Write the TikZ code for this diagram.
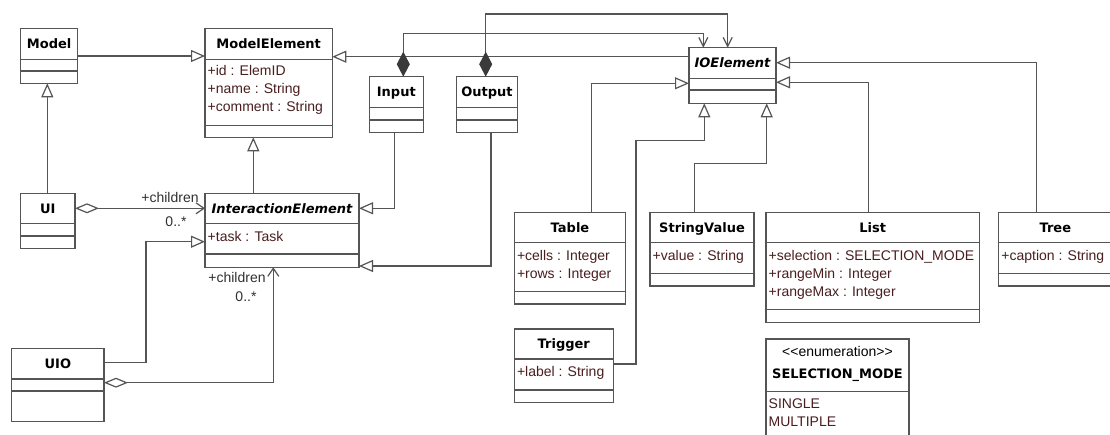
\documentclass[tikz,border=0pt]{standalone}
\usepackage{fontspec}
\setmainfont{Liberation Sans}
\newfontfamily\namefont{DejaVu Sans}
\usetikzlibrary{arrows.meta,fit}
\definecolor{linegray}{HTML}{555555}
\definecolor{attrred}{HTML}{4A1E1E}
\definecolor{labelgray}{HTML}{303030}
\definecolor{diamondgray}{HTML}{3A3A3A}

% horizontal compartment separator across a class box
\newcommand\compsep[2]{\draw[line] (#1.west |- 0,#2) -- (#1.east |- 0,#2);}

\begin{document}
\begin{tikzpicture}[x=1pt,y=-1pt,
  line/.style={draw=linegray, line width=1.2pt},
  classbox/.style={line, fill=white, inner sep=0pt, outer sep=0pt},
  cname/.style={font={\namefont\bfseries\fontsize{13}{15}\selectfont}, inner sep=0pt,
                text height=9.5pt, text depth=0pt, text=black},
  aname/.style={cname, font={\namefont\bfseries\itshape\fontsize{13}{15}\selectfont}},
  attr/.style={anchor=west, xshift=2.5pt, inner sep=0pt, text height=10pt, text depth=3pt,
               font={\fontsize{14}{16}\selectfont}, text=attrred},
  lbl/.style={inner sep=0pt, text height=10pt, text depth=3pt,
              font={\fontsize{14}{16}\selectfont}, text=labelgray},
  gen/.style={line, -{Triangle[open, length=14pt, width=12pt, fill=white]}},
  compo/.style={line, {Diamond[length=25pt, width=13pt, color=diamondgray, fill=diamondgray]}-{Straight Barb[length=9pt, width=9pt]}},
  aggr/.style={line, {Diamond[open, length=24pt, width=10pt, fill=white]}-{Straight Barb[length=8pt, width=11pt]}},
]
\clip (0,0) rectangle (1110,435);
\fill[white] (0,0) rectangle (1110,435);

% ---------- class boxes ----------
\node[classbox, fit={(20.7,28.3) (77.7,83.3)}] (Model) {};
\node[classbox, fit={(205,28.3) (332.3,137.3)}] (ModelElement) {};
\node[classbox, fit={(369.3,76.7) (423.3,132.3)}] (Input) {};
\node[classbox, fit={(456.7,76.7) (517.3,132.3)}] (Output) {};
\node[classbox, fit={(689,47.7) (776,103.3)}] (IOElement) {};
\node[classbox, fit={(20.7,193.3) (75,248.3)}] (UI) {};
\node[classbox, fit={(205,193.3) (359,267.3)}] (InteractionElement) {};
\node[classbox, fit={(11.7,348.3) (104,421.7)}] (UIO) {};
\node[classbox, fit={(514.3,212.7) (625.7,304)}] (Table) {};
\node[classbox, fit={(514.3,329) (613.3,402.3)}] (Trigger) {};
\node[classbox, fit={(650,212.7) (754,286)}] (StringValue) {};
\node[classbox, fit={(766,212.7) (979.3,322.3)}] (List) {};
\node[classbox, fit={(998.7,212.7) (1112,286)}] (Tree) {};
\node[classbox, fit={(766,339) (909,445)}] (SelMode) {};

% ---------- compartments ----------
\compsep{Model}{59.3}\compsep{Model}{71}
\compsep{ModelElement}{59.3}\compsep{ModelElement}{125.3}
\compsep{Input}{107.7}\compsep{Input}{120}
\compsep{Output}{107.7}\compsep{Output}{120}
\compsep{IOElement}{78.3}\compsep{IOElement}{90}
\compsep{UI}{223.3}\compsep{UI}{236}
\compsep{InteractionElement}{223.3}\compsep{InteractionElement}{254}
\compsep{UIO}{379}\compsep{UIO}{391}
\compsep{Table}{242.7}\compsep{Table}{291.7}
\compsep{Trigger}{359}\compsep{Trigger}{390}
\compsep{StringValue}{242.7}\compsep{StringValue}{273.3}
\compsep{List}{242.7}\compsep{List}{309.3}
\compsep{Tree}{242.7}\compsep{Tree}{273.3}
\compsep{SelMode}{391.7}

% ---------- class names ----------
\node[cname] (Model-t) at (Model.north |- 0,43.8) {Model};
\node[cname] (ModelElement-t) at (ModelElement.north |- 0,43.8) {ModelElement};
\node[cname] (Input-t) at (Input.north |- 0,92.2) {Input};
\node[cname] (Output-t) at (Output.north |- 0,92.2) {Output};
\node[aname] (IOElement-t) at (IOElement.north |- 0,63) {IOElement};
\node[cname] (UI-t) at (UI.north |- 0,208.3) {UI};
\node[aname] (InteractionElement-t) at (InteractionElement.north |- 0,208.3) {InteractionElement};
\node[cname] (UIO-t) at (UIO.north |- 0,363.7) {UIO};
\node[cname] (Table-t) at (Table.north |- 0,227.7) {Table};
\node[cname] (Trigger-t) at (Trigger.north |- 0,344) {Trigger};
\node[cname] (StringValue-t) at (StringValue.north |- 0,227.7) {StringValue};
\node[cname] (List-t) at (List.north |- 0,227.7) {List};
\node[cname] (Tree-t) at (Tree.north |- 0,227.7) {Tree};
% kerns keep the angle brackets from joining into guillemets
\node[lbl, text=black] (SelMode-s) at (SelMode.north |- 0,353.3) {<\kern0pt<enumeration>\kern0pt>};
\node[cname] (SelMode-t) at (SelMode.north |- 0,374) {SELECTION\_MODE};

% ---------- attributes ----------
\node[attr] (ModelElement-a1) at (ModelElement.west |- 0,72) {+id : ElemID};
\node[attr] (ModelElement-a2) at (ModelElement.west |- 0,90) {+name : String};
\node[attr] (ModelElement-a3) at (ModelElement.west |- 0,108) {+comment : String};
\node[attr] (InteractionElement-a1) at (InteractionElement.west |- 0,238.3) {+task : Task};
\node[attr] (Table-a1) at (Table.west |- 0,256.7) {+cells : Integer};
\node[attr] (Table-a2) at (Table.west |- 0,275) {+rows : Integer};
\node[attr] (Trigger-a1) at (Trigger.west |- 0,373.3) {+label : String};
\node[attr] (StringValue-a1) at (StringValue.west |- 0,256.7) {+value : String};
\node[attr] (List-a1) at (List.west |- 0,256.7) {+selection : SELECTION\_MODE};
\node[attr] (List-a2) at (List.west |- 0,275) {+rangeMin : Integer};
\node[attr] (List-a3) at (List.west |- 0,293) {+rangeMax : Integer};
\node[attr] (Tree-a1) at (Tree.west |- 0,256.7) {+caption : String};
\node[attr] (SelMode-a1) at (SelMode.west |- 0,405) {SINGLE};
\node[attr] (SelMode-a2) at (SelMode.west |- 0,422.7) {MULTIPLE};

% ---------- generalizations ----------
\draw[gen] (Model.east |- 0,56) -- (ModelElement.west |- 0,56);
\draw[gen] (UI.north -| 47.3,0) -- (Model.south -| 47.3,0);
\draw[gen] (InteractionElement.north -| 253.3,0) -- (ModelElement.south -| 253.3,0);
\draw[gen] (IOElement.west |- 0,56.7) -- (ModelElement.east |- 0,56.7);
\draw[gen] (Input.south -| 394.3,0) |- (InteractionElement.east |- 0,208.3);
\draw[gen] (Output.south -| 491,0) |- (InteractionElement.east |- 0,266);
\draw[gen] (UIO.east |- 0,362.7) -- (146,362.7) |- (InteractionElement.west |- 0,241.7);
\draw[gen] (Table.north -| 591.7,0) |- (IOElement.west |- 0,83.3);
\draw[gen] (Trigger.east |- 0,364) -- (636,364) |- (704.3,140.7) -- (IOElement.south -| 704.3,0);
\draw[gen] (StringValue.north -| 694.3,0) |- (766.7,163.3) -- (IOElement.south -| 766.7,0);
\draw[gen] (List.north -| 868.3,0) |- (IOElement.east |- 0,82.3);
\draw[gen] (Tree.north -| 1036.7,0) |- (IOElement.east |- 0,62.7);

% ---------- compositions ----------
\draw[compo] (Input.north -| 403.3,0) -- (403.3,33.3) -| (IOElement.north -| 703.3,0);
\draw[compo] (Output.north -| 485.7,0) -- (485.7,14) -| (IOElement.north -| 727.7,0);

% ---------- aggregations ----------
\draw[aggr] (UI.east |- 0,208.3) -- (InteractionElement.west |- 0,208.3);
\draw[aggr] (UIO.east |- 0,382.7) -| (InteractionElement.south -| 273.3,0);

% ---------- association end labels ----------
\node[lbl] (UI-role) at (170,199) {+children};
\node[lbl] (UI-mult) at (176,222.7) {0..*};
\node[lbl] (UIO-role) at (237,279.3) {+children};
\node[lbl] (UIO-mult) at (246,298.3) {0..*};
\end{tikzpicture}
\end{document}
